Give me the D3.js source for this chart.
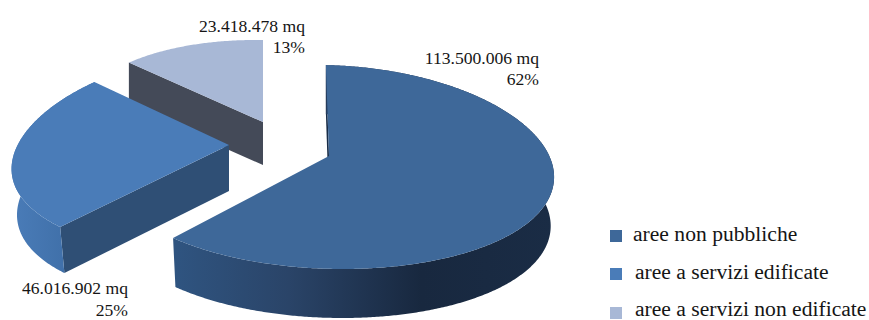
<!DOCTYPE html>
<html>
<head>
<meta charset="utf-8">
<script src="https://cdn.jsdelivr.net/npm/d3@7/dist/d3.min.js"></script>
<style>
    html, body { margin: 0; background: #fff; overflow: hidden; }
    svg { display: block; }
    text { font-family: "Liberation Serif", serif; font-size: 17.6px; fill: #151515; }
    .legend text { font-size: 21.6px; }
</style>
</head>
<body>
<script>
'use strict';

var categories = ['aree non pubbliche', 'aree a servizi edificate', 'aree a servizi non edificate'];
var areas = [113500006, 46016902, 23418478];
var areaLabels = ['113.500.006 mq', '46.016.902 mq', '23.418.478 mq'];
var shareLabels = ['62%', '25%', '13%'];
var topColors = ['#3e6899', '#4a7cb8', '#a8b8d6'];

var width = 869, height = 320;
var startDeg = 2.5;
var rad = Math.PI / 180;

// Each exploded slice has its own projection from pie space to the page
var slices = [
    {apex: [329, 156], rx: 223, ry: 102, lift: 11, shear: -13, persp: 0.0004, depth: 49, taper: 0.985,
        cut: '#182c47', side: 'sideMain'},
    {apex: [229, 145], rx: 212.6, ry: 102, lift: 11, shear: 0, persp: 0.0013, depth: 46, taper: 0.975,
        cut: '#2f4f75', side: 'sideServed'},
    {apex: [263, 122], rx: 186, ry: 82, lift: 0, shear: -8.1, persp: 0, depth: 43, taper: 1,
        cut: '#444a58', side: null}
];

var labelSpots = [
    {x: 539, y: 64, dy: 21},
    {x: 128, y: 294, dy: 22},
    {x: 305, y: 32, dy: 21}
];

var legendSpots = [
    {swatchY: 230, textX: 633, textY: 241},
    {swatchY: 268, textX: 635, textY: 279},
    {swatchY: 307, textX: 635, textY: 316}
];

var svg = d3.select('body').append('svg')
    .attr('width', width)
    .attr('height', height);

var defs = svg.append('defs');

function addGradient(id, x1, x2, stops) {
    var grad = defs.append('linearGradient')
        .attr('id', id)
        .attr('gradientUnits', 'userSpaceOnUse')
        .attr('x1', x1).attr('x2', x2)
        .attr('y1', 0).attr('y2', 0);
    stops.forEach(function(stop) {
        grad.append('stop').attr('offset', stop[0]).attr('stop-color', stop[1]);
    });
}

addGradient('sideMain', 176, 553, [[0, '#2f5480'], [0.3, '#2a4468'], [0.65, '#18283f'], [1, '#1a2c45']]);
addGradient('sideServed', 12, 66, [[0, '#4a7cb8'], [1, '#4070a9']]);

function project(s, r, theta) {
    var dy = r * (s.lift - s.ry * Math.cos(theta));
    var dx = r * (s.rx * Math.sin(theta) + s.shear * Math.cos(theta));
    return [s.apex[0] + dx * (1 + s.persp * dy), s.apex[1] + dy];
}

// Same point pushed down to the bottom face of the slice
function extrude(s, p) {
    return [s.apex[0] + (p[0] - s.apex[0]) * s.taper, p[1] + s.depth];
}

function arcPoints(s, a0, a1) {
    var steps = Math.ceil(Math.abs(a1 - a0) / (rad / 2));
    return d3.range(steps + 1).map(function(i) {
        return project(s, 1, a0 + (a1 - a0) * i / steps);
    });
}

var pie = d3.pie()
    .sort(null)
    .startAngle(startDeg * rad)
    .endAngle((startDeg + 360) * rad);

var arcs = pie(areas);
var line = d3.line();

function drawSlice(i) {
    var s = slices[i],
        g = svg.append('g').attr('class', 'slice'),
        outer = arcPoints(s, arcs[i].startAngle, arcs[i].endAngle),
        first = outer[0];

    // Cut face goes first, the top surface covers what should stay hidden
    g.append('path')
        .attr('d', line([s.apex, first, extrude(s, first), extrude(s, s.apex)]) + 'Z')
        .attr('fill', s.cut);

    if (s.side) {
        g.append('path')
            .attr('d', line(outer.concat(outer.map(function(p) { return extrude(s, p); }).reverse())) + 'Z')
            .attr('fill', 'url(#' + s.side + ')');
    }

    g.append('path')
        .attr('d', line([s.apex].concat(outer)) + 'Z')
        .attr('fill', topColors[i]);
}

// Back to front
[2, 1, 0].forEach(drawSlice);

var labels = svg.append('g').attr('class', 'labels')
    .selectAll('g')
    .data(categories)
    .join('g')
    .attr('text-anchor', 'end');

labels.append('text')
    .attr('x', function(d, i) { return labelSpots[i].x; })
    .attr('y', function(d, i) { return labelSpots[i].y; })
    .text(function(d, i) { return areaLabels[i]; });

labels.append('text')
    .attr('x', function(d, i) { return labelSpots[i].x; })
    .attr('y', function(d, i) { return labelSpots[i].y + labelSpots[i].dy; })
    .text(function(d, i) { return shareLabels[i]; });

var legend = svg.append('g').attr('class', 'legend')
    .selectAll('g')
    .data(categories)
    .join('g');

legend.append('rect')
    .attr('x', 610)
    .attr('y', function(d, i) { return legendSpots[i].swatchY; })
    .attr('width', 12)
    .attr('height', 12)
    .attr('fill', function(d, i) { return topColors[i]; });

legend.append('text')
    .attr('x', function(d, i) { return legendSpots[i].textX; })
    .attr('y', function(d, i) { return legendSpots[i].textY; })
    .text(function(d) { return d; });
</script>
</body>
</html>
